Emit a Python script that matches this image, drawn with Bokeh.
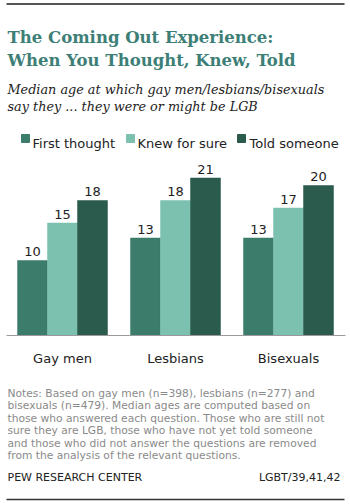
from bokeh.plotting import figure
from bokeh.models import FactorRange, Range1d, ColumnDataSource
from bokeh.transform import dodge
from bokeh.core.properties import value
from bokeh.embed import file_html
from bokeh.resources import INLINE

# ---- data ----
groups = ["Gay men", "Lesbians", "Bisexuals"]
series_names = ["First thought", "Knew for sure", "Told someone"]
first_thought = [10, 13, 13]
knew_for_sure = [15, 18, 17]
told_someone = [18, 21, 20]

title_lines = ["The Coming Out Experience:", "When You Thought, Knew, Told"]
subtitle_lines = ["Median age at which gay men/lesbians/bisexuals",
                  "say they ... they were or might be LGB"]
notes_lines = [
    "Notes: Based on gay men (n=398), lesbians (n=277) and",
    "bisexuals (n=479). Median ages are computed based on",
    "those who answered each question. Those who are still not",
    "sure they are LGB,  those who have not yet told someone",
    "and those who did not answer the questions are removed",
    "from the analysis of the relevant questions.",
]
source_text = "PEW RESEARCH  CENTER"
ref_text = "LGBT/39,41,42"

colors = ["#3b7c6b", "#7cc0b0", "#2b5b4d"]

W, H = 350, 504
BASE = 335.0      # pixel row of the zero line
PXU = 7.5         # pixels per year
RP = 0.0324       # factor range padding
NF = len(groups)
SPAN = NF * (1 + RP)
START = -NF * RP / 2


def fx(px):
    """page pixel column -> synthetic x coordinate"""
    return START + px * SPAN / W


def fy(py):
    """page pixel row -> y data coordinate"""
    return (BASE - py) / PXU


src = ColumnDataSource(dict(group=groups, first=first_thought,
                            knew=knew_for_sure, told=told_someone))

p = figure(width=W, height=H, output_backend="svg", toolbar_location=None,
           x_range=FactorRange(factors=groups, range_padding=RP),
           y_range=Range1d(fy(H), fy(0)),
           min_border=0, min_border_left=0, min_border_right=0,
           min_border_top=0, min_border_bottom=0)
p.axis.visible = False
p.grid.visible = False
p.outline_line_color = None
p.background_fill_color = "white"
p.border_fill_color = "white"

bw = 30 / 113.0
offs = [-bw, 0, bw]
cols = ["first", "knew", "told"]
for off, c, col in zip(offs, cols, colors):
    p.vbar(x=dodge("group", off, range=p.x_range), top=c, bottom=0, width=bw,
           source=src, fill_color=col, line_color=col, line_width=0.5)
    p.text(x=dodge("group", off, range=p.x_range), y=c, text=c, source=src,
           text_align="center", text_baseline="alphabetic", y_offset=-9,
           text_font=value("DejaVu Sans"), text_font_size="13px",
           text_color="#222222")

# category labels
p.text(x=groups, y=[fy(358)] * 3, text=groups,
       text_align="center", text_baseline="alphabetic",
       text_font=value("DejaVu Sans"), text_font_size="13px", text_color="#222222")

# rules
p.segment(x0=[fx(6)], x1=[fx(345)], y0=[0], y1=[0],
          line_color="#9a9a9a", line_width=1.2)
p.segment(x0=[fx(6)], x1=[fx(344)], y0=[fy(3.5)], y1=[fy(3.5)],
          line_color="#555555", line_width=2)
p.segment(x0=[fx(6)], x1=[fx(344)], y0=[fy(499)], y1=[fy(499)],
          line_color="#333333", line_width=1.5)

# title
p.text(x=[fx(7)] * 2, y=[fy(37), fy(60)], text=title_lines,
       text_baseline="alphabetic", text_font=value("DejaVu Serif"),
       text_font_style="bold", text_font_size="16.5px", text_color="#3d7f77")
# subtitle
p.text(x=[fx(7)] * 2, y=[fy(89), fy(106)], text=subtitle_lines,
       text_baseline="alphabetic", text_font=value("DejaVu Serif"),
       text_font_style="italic", text_font_size="12.8px", text_color="#222222")

# legend
lx_sq = [fx(25), fx(130), fx(241)]
lx_tx = [fx(32), fx(137), fx(249)]
p.scatter(x=lx_sq, y=[fy(138)] * 3, marker="square", size=8,
          fill_color=colors, line_color=colors)
p.text(x=lx_tx, y=[fy(142.5)] * 3, text=series_names,
       text_baseline="alphabetic", text_font=value("DejaVu Sans"),
       text_font_size="13px", text_color="#222222")

# notes
p.text(x=[fx(7)] * len(notes_lines),
       y=[fy(392.5 + 12.5 * i) for i in range(len(notes_lines))],
       text=notes_lines,
       text_baseline="alphabetic", text_font=value("DejaVu Sans"),
       text_font_size="10.7px", text_color="#8a8a8a")

# footer
p.text(x=[fx(7)], y=[fy(477)], text=[source_text],
       text_baseline="alphabetic", text_font=value("DejaVu Sans"),
       text_font_size="11px", text_color="#222222")
p.text(x=[fx(340)], y=[fy(477)], text=[ref_text],
       text_align="right", text_baseline="alphabetic", text_font=value("DejaVu Sans"),
       text_font_size="11px", text_color="#222222")

open("out.html", "w").write(file_html(p, INLINE))
